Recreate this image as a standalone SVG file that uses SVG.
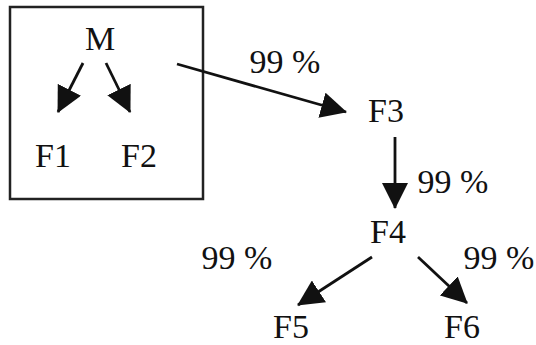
<svg xmlns="http://www.w3.org/2000/svg" width="536" height="345" viewBox="0 0 536 345">
<style>
text{font-family:"Liberation Serif","Times New Roman",serif;font-size:34px;fill:#111}
.c line{stroke:#111;stroke-width:2.8;marker-end:url(#ah)}
</style>
<defs>
<marker id="ah" viewBox="0 0 26 26" refX="25" refY="13" markerWidth="26" markerHeight="26" markerUnits="userSpaceOnUse" orient="auto">
<path d="M0,0 L26,13 L0,26 Z" fill="#111"/>
</marker>
</defs>
<rect x="10" y="7" width="193" height="192" fill="none" stroke="#222" stroke-width="2.5"/>
<g id="M"><text x="100" y="50" text-anchor="middle">M</text></g>
<g id="F1"><text x="53" y="167" text-anchor="middle">F1</text></g>
<g id="F2"><text x="139" y="167" text-anchor="middle">F2</text></g>
<g id="F3"><text x="386" y="122" text-anchor="middle">F3</text></g>
<g id="F4"><text x="388" y="243" text-anchor="middle">F4</text></g>
<g id="F5"><text x="291" y="338" text-anchor="middle">F5</text></g>
<g id="F6"><text x="462" y="338" text-anchor="middle">F6</text></g>
<g class="c">
<line x1="83" y1="63" x2="58" y2="112"/>
<line x1="106" y1="63" x2="130" y2="112"/>
<line x1="177" y1="64" x2="346" y2="112"/>
<line x1="395" y1="137" x2="395" y2="208"/>
<line x1="372" y1="257" x2="298" y2="305"/>
<line x1="418" y1="257" x2="467" y2="303"/>
</g>
<g id="labels">
<text x="285" y="73" text-anchor="middle">99 %</text>
<text x="453" y="193" text-anchor="middle">99 %</text>
<text x="237" y="269" text-anchor="middle">99 %</text>
<text x="499" y="269" text-anchor="middle">99 %</text>
</g>
</svg>
